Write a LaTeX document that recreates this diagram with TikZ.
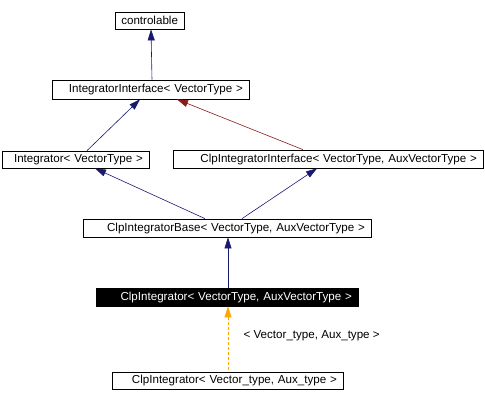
\documentclass[tikz,border=0pt]{standalone}
\usepackage{fontspec}
\setmainfont{Liberation Sans}
\usetikzlibrary{arrows.meta}
\definecolor{edgeblue}{HTML}{191970}
\definecolor{edgered}{HTML}{8B1A1A}
\definecolor{edgeorange}{HTML}{FFA500}
\begin{document}
\begin{tikzpicture}[x=1pt,y=-1pt]
    \tikzset{
        cls/.style={draw=black,line width=0.75pt,inner ysep=0pt,inner xsep=6pt,
            text width=#1,align=right,
            font=\fontsize{11.6}{12}\selectfont,minimum height=18pt},
        current/.style={cls=#1,fill=black,text=white},
        inherit/.style={edgeblue,line width=0.6pt,
            {Triangle[width=7pt,length=11pt]}-},
        iface/.style={inherit,edgered},
        tmpl/.style={edgeorange,line width=0.6pt,
            dash pattern=on 3pt off 2pt,{Triangle[width=7pt,length=11pt]}-}
    }
    \useasboundingbox (0,0) rectangle (485,402);
    % classes
    \node[cls=57pt,minimum height=17pt] (controlable) at (149.5,20.5) {controlable};
    \node[cls=185pt,minimum height=19pt] (integratorif) at (150.5,89.5) {IntegratorInterface< VectorType >};
    \node[cls=135pt,minimum height=17pt] (integrator) at (75.5,159.5) {Integrator< VectorType >};
    \node[cls=298pt] (clpif) at (328,159) {ClpIntegratorInterface< VectorType, AuxVectorType >};
    \node[cls=276pt] (clpbase) at (227,228) {ClpIntegratorBase< VectorType, AuxVectorType >};
    \node[current=250pt] (clpint) at (227,297) {ClpIntegrator< VectorType, AuxVectorType >};
    \node[cls=219pt,minimum height=17pt] (clpinst) at (227.5,380.5) {ClpIntegrator< Vector\_type, Aux\_type >};
    % edges
    \draw[inherit] ([xshift=1.5pt]controlable.south) -- ([xshift=1.5pt]integratorif.north);
    \draw[inherit] ([xshift=-10.5pt]integratorif.south) -- ([xshift=11.5pt]integrator.north);
    \draw[iface] ([xshift=26.5pt]integratorif.south) -- ([xshift=-25pt]clpif.north);
    \draw[inherit] ([xshift=19.5pt]integrator.south) -- ([xshift=-22pt]clpbase.north);
    \draw[inherit] ([xshift=-11pt]clpif.south) -- ([xshift=15pt]clpbase.north);
    \draw[inherit] ([xshift=1pt]clpbase.south) -- ([xshift=1pt]clpint.north);
    \draw[tmpl] ([xshift=1pt]clpint.south) -- ([xshift=0.5pt]clpinst.north)
        node[pos=0.45,anchor=west,xshift=12pt,text=black,font=\fontsize{11.6}{12}\selectfont] (args) {< Vector\_type, Aux\_type >};
\end{tikzpicture}
\end{document}
